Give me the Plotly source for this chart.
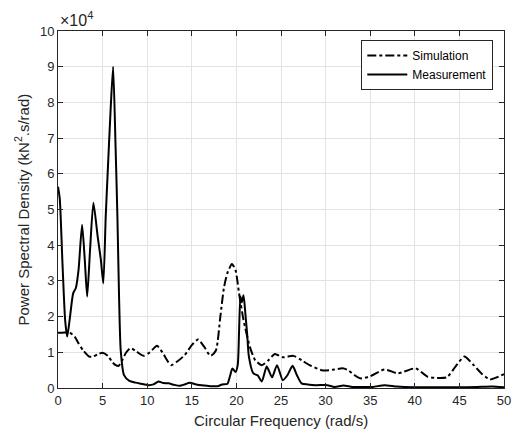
import plotly.graph_objects as go

# Measurement (rad/s, kN^2.s/rad)
meas_x = [0, 0.2, 0.5, 0.8, 1.03, 1.3, 1.7, 2.0, 2.3, 2.7, 3.0, 3.27, 3.6, 3.97, 4.45, 4.8, 5.08,
          5.35, 5.55, 5.9, 6.18, 6.45, 6.66, 6.85, 7.03, 7.4, 8.0, 8.7, 9.3, 10.15, 10.7, 11.26,
          11.8, 12.4, 13.0, 13.65, 14.2, 14.76, 15.5, 16.4, 17.2, 17.9, 18.4, 19.0, 19.3, 19.55,
          19.9, 20.15, 20.3, 20.45, 20.6, 20.8, 21.0, 21.2, 21.4, 21.9, 22.4, 22.85, 23.4, 24.0,
          24.55, 25.2, 25.7, 26.3, 26.8, 27.3, 28.0, 28.9, 30.2, 31.0, 32.0, 33.0, 34.0, 35.3,
          36.6, 38.0, 39.9, 42.0, 44.6, 47.0, 48.7, 50.0]
meas_y = [56400, 53000, 35000, 19000, 14400, 19000, 26500, 28000, 33000, 45700, 36000, 25600,
          39000, 51900, 42400, 36000, 29300, 48000, 59200, 78000, 90000, 68000, 48000, 25000,
          10600, 3600, 2000, 1500, 1200, 800, 1000, 1800, 1400, 1300, 900, 600, 1000, 1500, 1000,
          700, 500, 500, 1000, 1200, 3500, 5500, 4500, 6500, 16000, 25600, 24000, 26000, 21000,
          15300, 8800, 4100, 3500, 1800, 6000, 3000, 6400, 2200, 3500, 6200, 3500, 1300, 1000,
          800, 800, 300, 700, 300, 300, 300, 800, 400, 200, 200, 200, 300, 400, 200]

# Simulation
sim_x = [0, 0.5, 1.32, 1.87, 2.3, 2.8, 3.5, 3.9, 4.5, 5.0, 5.6, 6.1, 6.47, 6.8, 7.2, 7.6, 8.13,
         8.8, 9.6, 10.3, 11.1, 11.7, 12.3, 12.7, 13.4, 14.2, 15.0, 15.7, 16.4, 17.1, 17.7, 18.2,
         18.6, 18.98, 19.5, 19.9, 20.3, 20.8, 21.5, 22.1, 22.85, 23.6, 24.3, 25.2, 26.4, 27.3,
         28.2, 29.7, 31.0, 31.9, 32.5, 33.3, 33.9, 35.0, 36.6, 38.1, 40.1, 41.4, 42.5, 43.6,
         44.56, 45.55, 46.6, 47.5, 48.4, 49.2, 50.0]
sim_y = [15500, 15500, 15500, 14400, 12500, 10600, 8800, 8800, 9500, 9900, 9000, 7200, 6400,
         6200, 7800, 9800, 11200, 10200, 9000, 10000, 11800, 10000, 7500, 6400, 7500, 9200,
         12000, 13600, 11500, 9000, 10500, 20000, 28000, 32100, 34700, 33000, 26500, 19000,
         11600, 7800, 6400, 7800, 9500, 8600, 9000, 7800, 6400, 4900, 5200, 5500, 5000, 3500,
         2700, 3300, 5200, 4100, 5500, 3200, 2800, 3000, 6000, 8800, 6400, 4000, 2400, 3000, 3900]

x_ticks = [0, 5, 10, 15, 20, 25, 30, 35, 40, 45, 50]
y_ticks = [0, 10000, 20000, 30000, 40000, 50000, 60000, 70000, 80000, 90000, 100000]
y_tick_labels = ["0", "1", "2", "3", "4", "5", "6", "7", "8", "9", "10"]

FONT = "Arial, Liberation Sans, sans-serif"
DARK = "#262626"

fig = go.Figure()
fig.add_trace(go.Scatter(x=sim_x, y=sim_y, mode="lines", name="Simulation",
                         line=dict(color="black", width=2, dash="dashdot", shape="spline", smoothing=0.6)))
fig.add_trace(go.Scatter(x=meas_x, y=meas_y, mode="lines", name="Measurement",
                         line=dict(color="black", width=2, shape="spline", smoothing=0.6)))

axis_common = dict(showline=True, linecolor=DARK, linewidth=1, mirror="ticks", ticks="inside",
                   ticklen=5, tickcolor=DARK, showgrid=True, gridcolor="#e3e3e3", gridwidth=1,
                   zeroline=False, tickfont=dict(family=FONT, size=13, color=DARK))

fig.update_xaxes(range=[0, 50], tickvals=x_ticks, **axis_common)
fig.update_yaxes(range=[0, 100000], tickvals=y_ticks, ticktext=y_tick_labels, **axis_common)

fig.update_layout(
    width=521, height=438,
    margin=dict(l=58, r=10, t=31, b=50),
    paper_bgcolor="white", plot_bgcolor="white",
    showlegend=True,
    legend=dict(x=0.976, y=0.975, xanchor="right", yanchor="top", bgcolor="white",
                bordercolor=DARK, borderwidth=1, font=dict(family=FONT, size=12, color="black"),
                tracegroupgap=0, itemwidth=40),
    annotations=[
        dict(text="×10<sup>4</sup>", xref="paper", yref="paper", x=0, y=1, xanchor="left",
             yanchor="bottom", showarrow=False, font=dict(family=FONT, size=16, color=DARK),
             xshift=0, yshift=0),
        dict(text="Power Spectral Density (kN<sup>2</sup>.s/rad)", xref="paper", yref="paper",
             x=0, y=0.5, xanchor="center", yanchor="middle", textangle=-90, showarrow=False,
             xshift=-36, font=dict(family=FONT, size=15, color=DARK)),
        dict(text="Circular Frequency (rad/s)", xref="paper", yref="paper", x=0.5, y=0,
             xanchor="center", yanchor="middle", showarrow=False, yshift=-32,
             font=dict(family=FONT, size=15, color=DARK)),
    ],
)

fig.write_html("out.html")
